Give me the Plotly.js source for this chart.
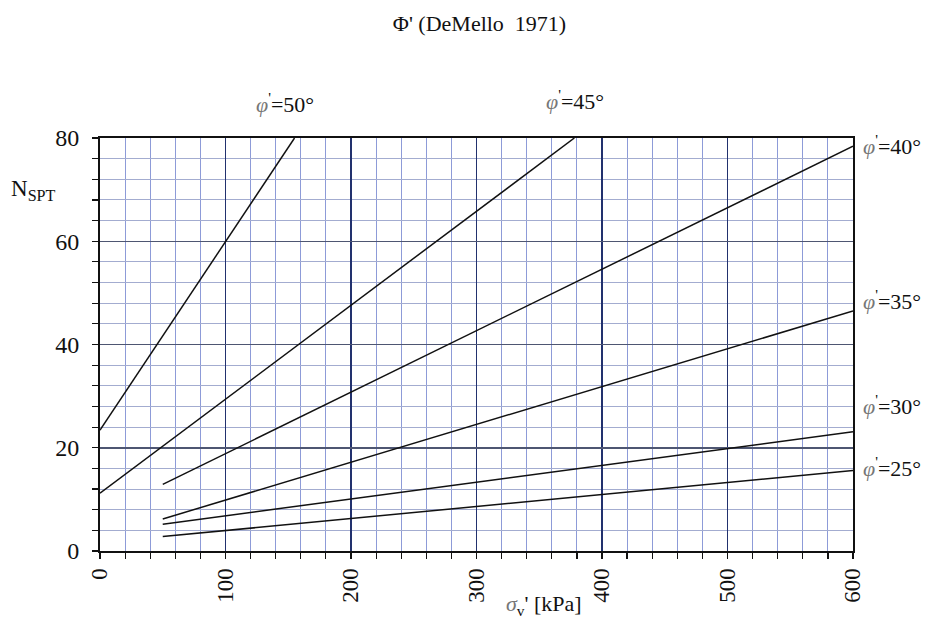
<!DOCTYPE html>
<html>
<head>
<meta charset="utf-8">
<script src="https://cdn.plot.ly/plotly-3.0.1.min.js"></script>
<style>html,body{margin:0;padding:0;background:#fff;}#chart{width:933px;height:626px;}</style>
</head>
<body>
<div id="chart"></div>
<script>
// Data
const seriesNames = ["φ'=50°", "φ'=45°", "φ'=40°", "φ'=35°", "φ'=30°", "φ'=25°"];
const x50 = [0, 155];
const y50 = [23.4, 80];
const x45 = [0, 378];
const y45 = [11.2, 80];
const x40 = [50, 600];
const y40 = [12.9, 78.4];
const x35 = [50, 600];
const y35 = [6.2, 46.5];
const x30 = [50, 600];
const y30 = [5.2, 23.1];
const x25 = [50, 600];
const y25 = [2.8, 15.6];
const xTicks = [0, 100, 200, 300, 400, 500, 600];
const yTicks = [0, 20, 40, 60, 80];

const xs = [x50, x45, x40, x35, x30, x25];
const ys = [y50, y45, y40, y35, y30, y25];

const traces = xs.map((x, i) => ({
  x: x, y: ys[i], mode: 'lines', name: seriesNames[i],
  line: {color: '#111', width: 1.5}, hoverinfo: 'skip'
}));

const serif = '"Liberation Serif", "Times New Roman", serif';
function phiLabel(deg){
  return "<i><span style='color:#777'>φ</span></i><sup>'</sup>=" + deg + "°";
}
const labelPos = [
  {deg: 50, x: 0.246, y: 1.085, xanchor: 'center'},
  {deg: 45, x: 0.631, y: 1.092, xanchor: 'center'},
  {deg: 40, x: 1.010, y: 0.983, xanchor: 'left'},
  {deg: 35, x: 1.010, y: 0.608, xanchor: 'left'},
  {deg: 30, x: 1.010, y: 0.354, xanchor: 'left'},
  {deg: 25, x: 1.010, y: 0.203, xanchor: 'left'}
];
const annotations = labelPos.map(p => ({
  x: p.x, y: p.y, xref: 'paper', yref: 'paper', text: phiLabel(p.deg), showarrow: false,
  xanchor: p.xanchor, yanchor: 'middle', font: {family: serif, size: 22, color: '#111'}
}));
annotations.push({
  xref: 'paper', yref: 'paper', x: -0.088, y: 0.874, text: 'N<sub>SPT</sub>',
  showarrow: false, font: {family: serif, size: 23, color: '#111'}, xanchor: 'center', yanchor: 'middle'
});
annotations.push({
  xref: 'paper', yref: 'paper', x: 0.59, y: -0.13, text: "<i><span style='color:#777'>σ</span></i><sub>v</sub>' [kPa]",
  showarrow: false, font: {family: serif, size: 22, color: '#111'}, xanchor: 'center', yanchor: 'middle'
});

const layout = {
  width: 933, height: 626,
  margin: {l: 100, r: 80, t: 138, b: 75},
  paper_bgcolor: '#fff', plot_bgcolor: '#fff',
  showlegend: false,
  font: {family: serif, color: '#111'},
  title: {text: "Φ' (DeMello  1971)", x: 0.504, xref: 'paper', y: 0.962, yref: 'container', yanchor: 'middle',
          xanchor: 'center', font: {family: serif, size: 22, color: '#111'}},
  xaxis: {
    range: [0, 600], tickvals: xTicks, ticktext: xTicks.map(String), tickangle: -90,
    showgrid: true, gridcolor: '#22316e', gridwidth: 1.5,
    ticks: 'outside', ticklen: 6, tickcolor: '#111', tickwidth: 1.2,
    showline: true, linecolor: '#111', linewidth: 2, mirror: true,
    zeroline: false,
    tickfont: {family: serif, size: 23, color: '#111'},
    minor: {dtick: 20, showgrid: true, gridcolor: '#8d9bd8', gridwidth: 1, ticks: 'outside', ticklen: 6, tickcolor: '#111', tickwidth: 1.2}
  },
  yaxis: {
    range: [0, 80], tickvals: yTicks, ticktext: yTicks.map(String),
    showgrid: true, gridcolor: '#4e5672', gridwidth: 1.5,
    ticks: 'outside', ticklen: 6, tickcolor: '#111', tickwidth: 1.2, ticklabelstandoff: 8,
    showline: true, linecolor: '#111', linewidth: 2, mirror: true,
    zeroline: false,
    tickfont: {family: serif, size: 24, color: '#111'},
    minor: {dtick: 4, showgrid: true, gridcolor: '#a3acd0', gridwidth: 1, ticks: 'outside', ticklen: 6, tickcolor: '#111', tickwidth: 1.2}
  },
  annotations: annotations
};

Plotly.newPlot('chart', traces, layout, {displayModeBar: false, staticPlot: true});
</script>
</body>
</html>
